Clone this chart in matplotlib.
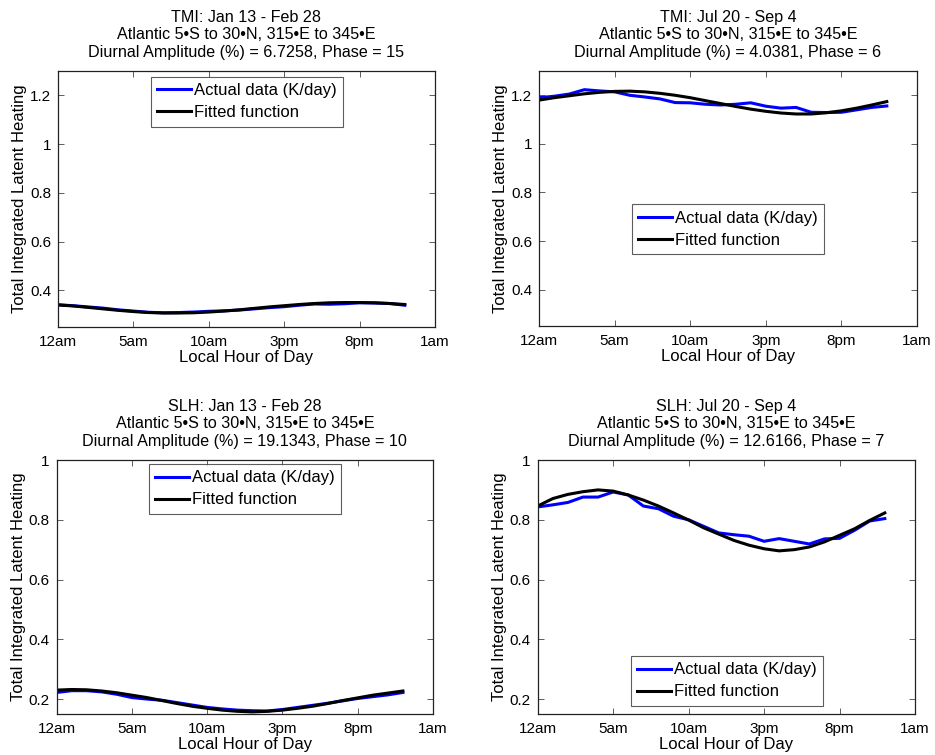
"""
Diurnal cycle of total integrated latent heating (TMI vs SLH), Atlantic box.
2x2 panels: actual data + fitted diurnal function.
"""
import numpy as np
import matplotlib
matplotlib.use('Agg')
import matplotlib.pyplot as plt

plt.rcParams['font.family'] = ['Liberation Sans', 'DejaVu Sans']

# =============================================================================
# DATA (hourly, local time)
# =============================================================================
hours = [0, 1, 2, 3, 4, 5, 6, 7, 8, 9, 10, 11,
         12, 13, 14, 15, 16, 17, 18, 19, 20, 21, 22, 23]

# TMI, Jan 13 - Feb 28
tmi_jan_actual = [0.341, 0.337, 0.332, 0.327, 0.320, 0.315, 0.310, 0.308,
                  0.309, 0.311, 0.314, 0.316, 0.319, 0.324, 0.329, 0.333,
                  0.339, 0.344, 0.343, 0.345, 0.349, 0.348, 0.346, 0.339]
tmi_jan_fit = [0.340, 0.336, 0.330, 0.324, 0.318, 0.313, 0.309, 0.307,
               0.307, 0.308, 0.311, 0.315, 0.320, 0.326, 0.332, 0.337,
               0.342, 0.346, 0.349, 0.350, 0.350, 0.349, 0.346, 0.342]

# TMI, Jul 20 - Sep 4
tmi_jul_actual = [1.190, 1.196, 1.205, 1.223, 1.218, 1.214, 1.200, 1.193,
                  1.185, 1.170, 1.169, 1.163, 1.160, 1.163, 1.169, 1.155,
                  1.147, 1.150, 1.130, 1.129, 1.130, 1.140, 1.150, 1.156]
tmi_jul_fit = [1.180, 1.190, 1.198, 1.206, 1.212, 1.216, 1.217, 1.214,
               1.208, 1.200, 1.190, 1.178, 1.166, 1.154, 1.143, 1.134,
               1.127, 1.123, 1.123, 1.128, 1.136, 1.147, 1.160, 1.174]

# SLH, Jan 13 - Feb 28
slh_jan_actual = [0.222, 0.228, 0.228, 0.224, 0.216, 0.205, 0.200, 0.196,
                  0.188, 0.180, 0.172, 0.167, 0.163, 0.161, 0.160, 0.165,
                  0.172, 0.179, 0.186, 0.194, 0.202, 0.208, 0.214, 0.222]
slh_jan_fit = [0.230, 0.232, 0.231, 0.227, 0.221, 0.213, 0.205, 0.195,
               0.185, 0.176, 0.169, 0.163, 0.159, 0.157, 0.159, 0.163,
               0.169, 0.176, 0.185, 0.195, 0.204, 0.213, 0.220, 0.227]

# SLH, Jul 20 - Sep 4
slh_jul_actual = [0.843, 0.850, 0.858, 0.876, 0.876, 0.893, 0.883, 0.846,
                  0.837, 0.812, 0.800, 0.778, 0.756, 0.750, 0.745, 0.728,
                  0.737, 0.728, 0.719, 0.736, 0.738, 0.765, 0.796, 0.804]
slh_jul_fit = [0.846, 0.871, 0.885, 0.894, 0.900, 0.896, 0.883, 0.866,
               0.846, 0.823, 0.799, 0.773, 0.752, 0.731, 0.715, 0.703,
               0.696, 0.700, 0.709, 0.726, 0.748, 0.770, 0.798, 0.823]

titles = [
    'TMI: Jan 13 - Feb 28\nAtlantic 5\u2022S to 30\u2022N, 315\u2022E to 345\u2022E\n'
    'Diurnal Amplitude (%) = 6.7258, Phase = 15',
    'TMI: Jul 20 - Sep 4\nAtlantic 5\u2022S to 30\u2022N, 315\u2022E to 345\u2022E\n'
    'Diurnal Amplitude (%) = 4.0381, Phase = 6',
    'SLH: Jan 13 - Feb 28\nAtlantic 5\u2022S to 30\u2022N, 315\u2022E to 345\u2022E\n'
    'Diurnal Amplitude (%) = 19.1343, Phase = 10',
    'SLH: Jul 20 - Sep 4\nAtlantic 5\u2022S to 30\u2022N, 315\u2022E to 345\u2022E\n'
    'Diurnal Amplitude (%) = 12.6166, Phase = 7',
]

x_ticks = [0, 5, 10, 15, 20, 25]
x_tick_labels = ['12am', '5am', '10am', '3pm', '8pm', '1am']

y_ticks_tmi = [0.4, 0.6, 0.8, 1.0, 1.2]
y_tick_labels_tmi = ['0.4', '0.6', '0.8', '1', '1.2']
y_ticks_slh = [0.2, 0.4, 0.6, 0.8, 1.0]
y_tick_labels_slh = ['0.2', '0.4', '0.6', '0.8', '1']

legend_labels = ['Actual data (K/day)', 'Fitted function']


# =============================================================================
# PLOT
# =============================================================================
def draw_panel(ax, actual, fit, title, ylim, yticks, yticklabels, legend_anchor):
    ax.plot(hours, actual, color='#0000ff', linewidth=2.2, label=legend_labels[0])
    ax.plot(hours, fit, color='black', linewidth=2.2, label=legend_labels[1])

    ax.set_xlim(0, 25)
    ax.set_ylim(*ylim)
    ax.set_xticks(x_ticks)
    ax.set_xticklabels(x_tick_labels)
    ax.set_yticks(yticks)
    ax.set_yticklabels(yticklabels)
    ax.tick_params(direction='in', length=4, width=0.6, top=True, right=True,
                   labelsize=11, color='#444444')
    ax.tick_params(axis='x', pad=6)
    ax.tick_params(axis='y', pad=5)
    for sp in ax.spines.values():
        sp.set_linewidth(0.9)
        sp.set_color('#222222')

    ax.set_title(title, fontsize=11.6, linespacing=1.22, pad=10)
    ax.set_xlabel('Local Hour of Day', fontsize=12, labelpad=0.5)
    ax.set_ylabel('Total Integrated Latent Heating', fontsize=12, labelpad=2)

    leg = ax.legend(loc='upper left', bbox_to_anchor=legend_anchor,
                    fontsize=12, frameon=True, fancybox=False,
                    borderaxespad=0, borderpad=0.38, labelspacing=0.42,
                    handlelength=2.0, handletextpad=0.2)
    leg.get_frame().set_edgecolor('#333333')
    leg.get_frame().set_linewidth(0.8)


fig = plt.figure(figsize=(9.35, 7.55), dpi=100)

ax_tl = fig.add_axes([0.062, 0.567, 0.4032, 0.339])
ax_tr = fig.add_axes([0.5765, 0.568, 0.4043, 0.338])
ax_bl = fig.add_axes([0.0606, 0.0543, 0.4025, 0.3364])
ax_br = fig.add_axes([0.5751, 0.0543, 0.4035, 0.3364])

draw_panel(ax_tl, tmi_jan_actual, tmi_jan_fit, titles[0], (0.25, 1.3),
           y_ticks_tmi, y_tick_labels_tmi, (0.247, 0.977))
draw_panel(ax_tr, tmi_jul_actual, tmi_jul_fit, titles[1], (0.25, 1.3),
           y_ticks_tmi, y_tick_labels_tmi, (0.246, 0.477))
draw_panel(ax_bl, slh_jan_actual, slh_jan_fit, titles[2], (0.15, 1.0),
           y_ticks_slh, y_tick_labels_slh, (0.245, 0.984))
draw_panel(ax_br, slh_jul_actual, slh_jul_fit, titles[3], (0.15, 1.0),
           y_ticks_slh, y_tick_labels_slh, (0.247, 0.228))

fig.savefig('out.png', dpi=100)
